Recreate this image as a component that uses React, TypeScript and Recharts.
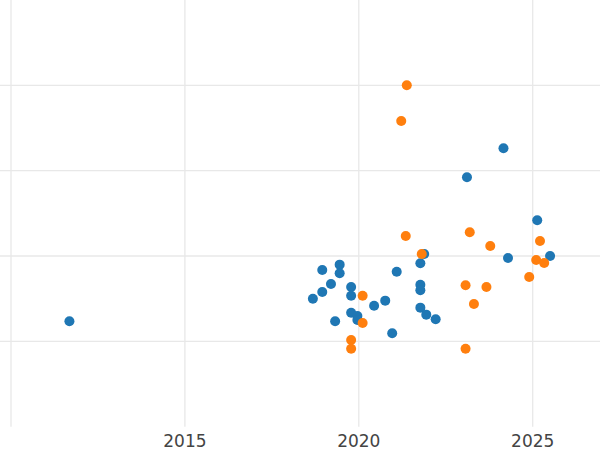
import React from 'react';
import { ScatterChart, Scatter, XAxis, YAxis, CartesianGrid } from 'recharts';

// blue series: [year, value]
const blueYears = [
  2011.68, 2018.95, 2019.45, 2019.45, 2019.2, 2018.95, 2018.68, 2019.78, 2019.78, 2020.44,
  2020.76, 2019.78, 2019.96, 2019.96, 2019.32, 2020.96, 2021.09, 2021.88, 2021.77, 2021.77,
  2021.77, 2021.77, 2021.94, 2022.21, 2023.11, 2024.16, 2024.29, 2025.13, 2025.5,
];
const blueValues = [
  1.235, 1.836, 1.899, 1.798, 1.672, 1.579, 1.5, 1.637, 1.535, 1.418,
  1.477, 1.336, 1.297, 1.25, 1.235, 1.095, 1.816, 2.024, 1.915, 1.664,
  1.598, 1.395, 1.313, 1.259, 2.923, 3.263, 1.977, 2.419, 2.0,
];

// orange series
const orangeYears = [
  2021.38, 2021.22, 2021.35, 2021.81, 2020.11, 2020.11, 2019.78, 2019.78, 2023.19,
  2023.78, 2023.07, 2023.67, 2023.31, 2023.07, 2024.9, 2025.21, 2025.1, 2025.33,
];
const orangeValues = [
  4.001, 3.583, 2.235, 2.024, 1.535, 1.215, 1.016, 0.914, 2.278,
  2.118, 1.657, 1.637, 1.438, 0.914, 1.754, 2.176, 1.954, 1.918,
];

const xTicks = [2010, 2015, 2020, 2025];
const yTicks = [1, 2, 3, 4];
const X_DOMAIN = [2009.684, 2026.935];
const Y_DOMAIN = [0, 5];

const blueData = blueYears.map((x, i) => ({ x, y: blueValues[i] }));
const orangeData = orangeYears.map((x, i) => ({ x, y: orangeValues[i] }));

const Dot = (color: string) => (props: any) =>
  <circle cx={props.cx} cy={props.cy} r={5} fill={color} />;

const YearTick = ({ x, y, payload }: any) => {
  if (payload.value === 2010) return null;
  return (
    <text x={x} y={y + 20} textAnchor="middle" fill="#444" fontSize={17} fontFamily="DejaVu Sans">
      {payload.value}
    </text>
  );
};

// grid lines only at the tick values (no lines on the plot edges)
const hLines = ({ offset }: any) =>
  yTicks.map((t) => offset.top + offset.height * (1 - (t - Y_DOMAIN[0]) / (Y_DOMAIN[1] - Y_DOMAIN[0])));
const vLines = ({ offset }: any) =>
  xTicks.map((t) => offset.left + offset.width * ((t - X_DOMAIN[0]) / (X_DOMAIN[1] - X_DOMAIN[0])));

export default function App() {
  return (
    <div style={{ position: 'absolute', left: 0, top: 0, background: '#fff' }}>
      <ScatterChart width={600} height={450} margin={{ top: 0, right: 0, bottom: 0, left: 0 }}>
        <CartesianGrid
          stroke="#e8e8e8"
          strokeWidth={1.3}
          horizontalCoordinatesGenerator={hLines}
          verticalCoordinatesGenerator={vLines}
        />
        <XAxis
          type="number"
          dataKey="x"
          domain={X_DOMAIN}
          ticks={xTicks}
          allowDataOverflow
          axisLine={false}
          tickLine={false}
          tickSize={0}
          tickMargin={0}
          height={23.3}
          tick={<YearTick />}
        />
        <YAxis type="number" dataKey="y" domain={Y_DOMAIN} ticks={yTicks} hide allowDataOverflow />
        <Scatter data={blueData} fill="#1f77b4" shape={Dot('#1f77b4')} isAnimationActive={false} />
        <Scatter data={orangeData} fill="#ff7f0e" shape={Dot('#ff7f0e')} isAnimationActive={false} />
      </ScatterChart>
    </div>
  );
}
